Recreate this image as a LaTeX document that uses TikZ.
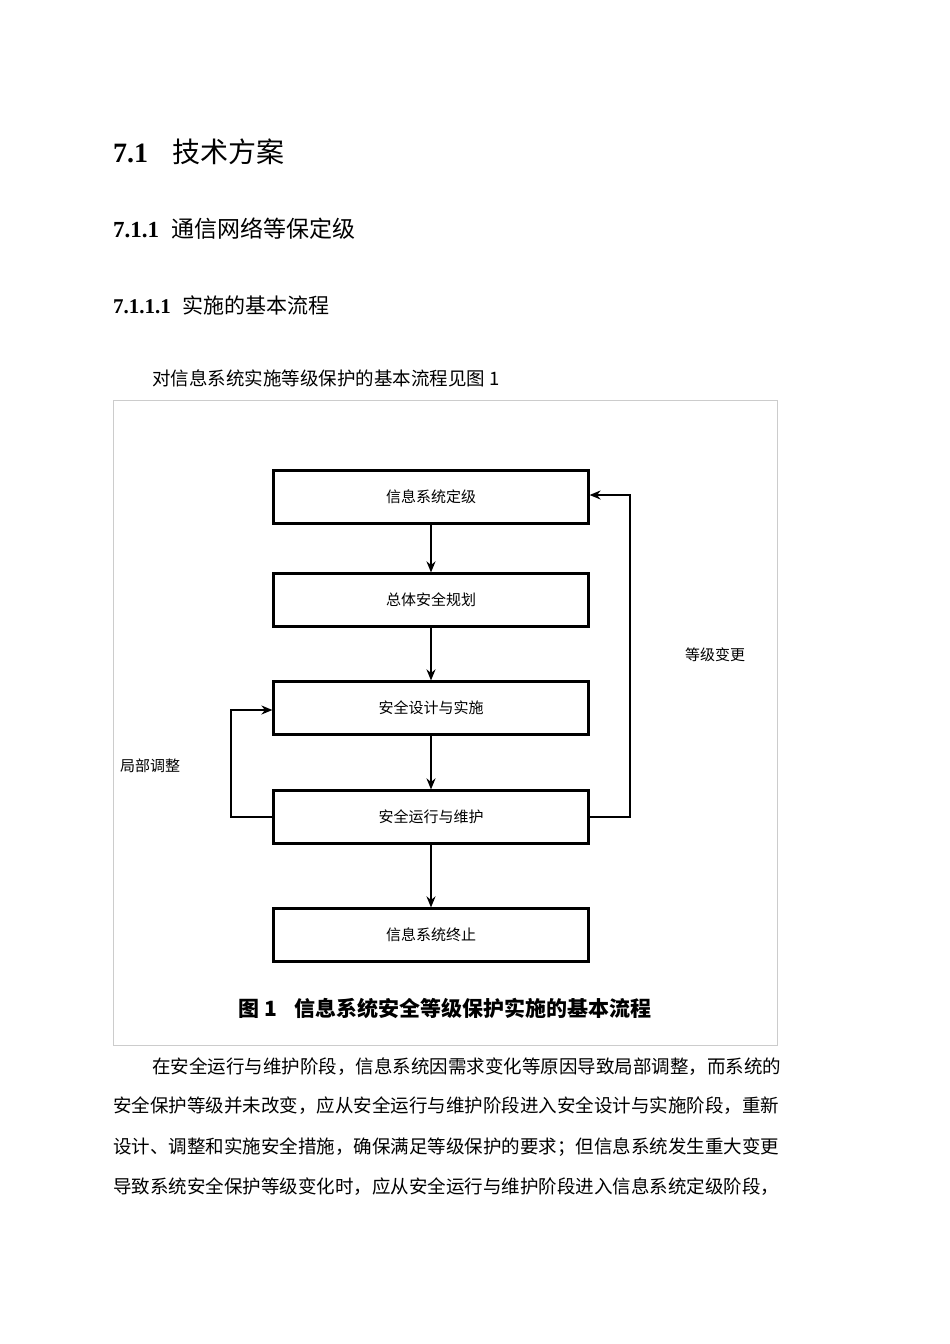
\documentclass[tikz,border=0pt]{standalone}
\usepackage{fontspec}
\setmainfont{Liberation Serif}
\newfontfamily\cjk{Noto Sans CJK SC}
\usetikzlibrary{arrows.meta}
\begin{document}
\begin{tikzpicture}[x=1pt,y=-1pt,
  stepbox/.style={draw,line width=2.2pt,minimum width=315pt,minimum height=53pt,font=\cjk\fontsize{15}{15}\selectfont},
  arr/.style={line width=1.8pt,-{Stealth[length=11pt,width=9pt]}},
  lbl/.style={font=\cjk\fontsize{15}{15}\selectfont},
  body/.style={anchor=west,font=\cjk\fontsize{18.5}{18.5}\selectfont,inner sep=0pt}]
\useasboundingbox (0,0) rectangle (950,1344);
\node[anchor=west,inner sep=0pt] (h1) at (113,152) {\fontsize{28}{28}\selectfont\textbf{7.1}\hspace{24pt}{\cjk 技术方案}};
\node[anchor=west,inner sep=0pt] (h2) at (113,229) {\fontsize{23}{23}\selectfont\textbf{7.1.1}\hspace{12pt}{\cjk 通信网络等保定级}};
\node[anchor=west,inner sep=0pt] (h3) at (113,305) {\fontsize{21}{21}\selectfont\textbf{7.1.1.1}\hspace{12pt}{\cjk 实施的基本流程}};
\node[body] (p0) at (152,378) {对信息系统实施等级保护的基本流程见图 1};
\draw[gray!40,line width=0.8pt] (113,400) rectangle (777,1045);
\node[stepbox] (b1) at (431,497) {信息系统定级};
\node[stepbox] (b2) at (431,600) {总体安全规划};
\node[stepbox] (b3) at (431,708) {安全设计与实施};
\node[stepbox] (b4) at (431,817) {安全运行与维护};
\node[stepbox] (b5) at (431,935) {信息系统终止};
\draw[arr] (b1) -- (b2);
\draw[arr] (b2) -- (b3);
\draw[arr] (b3) -- (b4);
\draw[arr] (b4) -- (b5);
\coordinate (r1) at (630,817);
\coordinate (r2) at (630,495);
\draw[arr] (b4.east) -- (r1) -- (r2) -- (b1.east |- r2);
\coordinate (l1) at (231,817);
\coordinate (l2) at (231,710);
\draw[arr] (b4.west) -- (l1) -- (l2) -- (b3.west |- l2);
\node[lbl] (t1) at (715,655) {等级变更};
\node[lbl] (t2) at (150,766) {局部调整};
\node[font=\cjk\bfseries\fontsize{21}{21}\selectfont] (cap) at (445,1008) {图 1\hspace{18pt}信息系统安全等级保护实施的基本流程};
\node[body] (l1t) at (152,1067) {在安全运行与维护阶段，信息系统因需求变化等原因导致局部调整，而系统的};
\node[body] (l2t) at (113,1106) {安全保护等级并未改变，应从安全运行与维护阶段进入安全设计与实施阶段，重新};
\node[body] (l3t) at (113,1147) {设计、调整和实施安全措施，确保满足等级保护的要求；但信息系统发生重大变更};
\node[body] (l4t) at (113,1187) {导致系统安全保护等级变化时，应从安全运行与维护阶段进入信息系统定级阶段，};
\end{tikzpicture}
\end{document}
